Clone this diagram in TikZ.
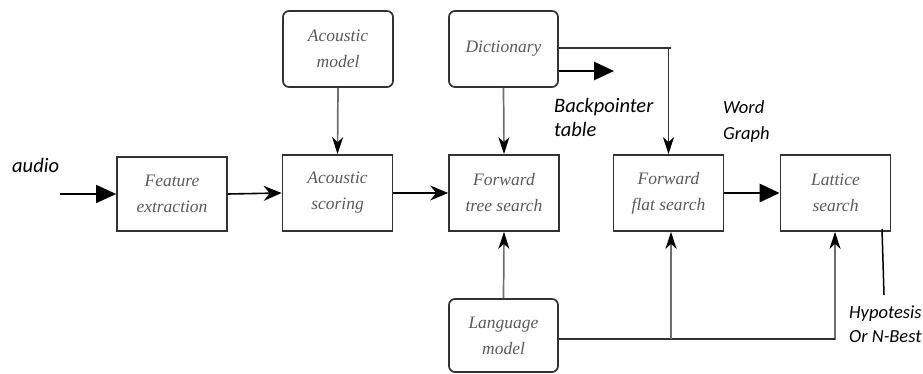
\documentclass[tikz,border=0pt]{standalone}
\usepackage{fontspec}
\setmainfont{Liberation Serif}
\newfontfamily\labfont{Carlito}
\usetikzlibrary{arrows.meta,calc}
\definecolor{boxline}{RGB}{50,50,50}
\definecolor{boxtext}{RGB}{90,90,90}
\definecolor{feed}{RGB}{110,110,110}
\begin{document}
\begin{tikzpicture}[x=1pt,y=-1pt,
  block/.style={draw=boxline,line width=1.7pt,inner sep=0pt,align=center,
    minimum width=110pt,minimum height=76pt,text=boxtext,
    font=\itshape\fontsize{17.5}{26}\selectfont},
  store/.style={block,rounded corners=6pt},
  flow/.style={black,line width=1.6pt,-{Stealth[length=18pt,width=15pt,inset=6pt]}},
  feedarrow/.style={feed,line width=1.7pt,-{Stealth[length=17pt,width=11pt,inset=5pt,black]}},
  boldarrow/.style={black,line width=2.8pt,-{Triangle[length=20pt,width=18pt]}},
  thinarrow/.style={black,line width=1.6pt,-{Triangle[length=20pt,width=18pt]}},
  lab/.style={inner sep=0pt,anchor=base west,font=\labfont\itshape\fontsize{20.5}{24}\selectfont},
  smalllab/.style={lab,font=\labfont\itshape\fontsize{18.5}{24}\selectfont}]
\useasboundingbox (0,0) rectangle (923,374);

% processing stages
\node[block,minimum width=110pt,minimum height=74pt] (fe) at (172,194) {Feature\\extraction};
\node[block] (as) at (337.5,193) {Acoustic\\scoring};
\node[block] (fts) at (504,193) {Forward\\tree search};
\node[block] (ffs) at (668.5,193) {Forward\\flat search};
\node[block] (ls) at (835.5,193) {Lattice\\search};

% knowledge sources
\node[store] (am) at (338,49) {Acoustic\\model};
\node[store,minimum width=109pt] (dic) at (503.5,49) {Dictionary};
\node[store,minimum width=109pt,minimum height=73pt] (lm) at (503.5,335.5) {Language\\model};

% free ends
\coordinate (in) at (60,194);
\coordinate (bpend) at (614,71);
\coordinate (dicturn) at (671,48);
\coordinate (lmturn) at (835,339);
\coordinate (lmbranch) at (671,339);
\coordinate (outtop) at (882,229);
\coordinate (outend) at (884,295);

% main chain
\draw[thinarrow] (in) -- (fe.west);
\draw[flow] (fe.east) -- (as.west);
\draw[flow] (as.east) -- (fts.west);
\draw[boldarrow] (ffs.east) -- (ls.west);

% knowledge source feeds
\draw[feedarrow] (am.south) -- (as.north);
\draw[feedarrow] (dic.south) -- (fts.north);
\draw[feedarrow] (lm.north) -- (fts.south);
\draw[feedarrow,draw=boxline] (dic.east |- dicturn) -- (dicturn) -- (dicturn -| ffs.north) -- (ffs.north);
\draw[feedarrow] (lm.east |- lmturn) -- (lmturn) -- (lmturn |- ls.south);
\draw[boxline,line width=1.7pt] (lm.east |- lmturn) -- (lmturn);
\draw[feedarrow] (lmbranch) -- (lmbranch |- ffs.south);
\draw[boldarrow] (dic.east |- bpend) -- (bpend);

% output
\draw[black,line width=1.5pt] (outtop) -- (outend);

% labels
\node[lab] (audio) at (12,173) {audio};
\node[lab] (bp1) at (554,113) {Backpointer};
\node[lab] (bp2) at (554,137) {table};
\node[smalllab] (wg1) at (723,114) {Word};
\node[smalllab] (wg2) at (723,140) {Graph};
\node[smalllab] (hy1) at (849,318) {Hypotesis};
\node[smalllab] (hy2) at (849,342) {Or N-Best};
\end{tikzpicture}
\end{document}
